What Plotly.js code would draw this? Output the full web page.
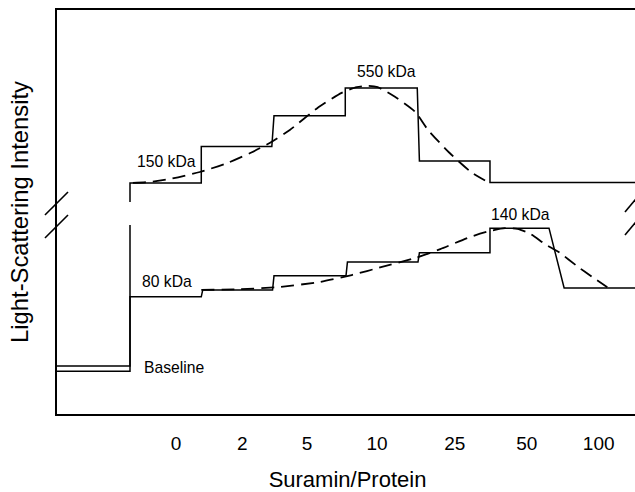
<!DOCTYPE html>
<html>
<head>
<meta charset="utf-8">
<script src="https://cdn.plot.ly/plotly-3.0.1.min.js"></script>
<style>
html,body{margin:0;padding:0;overflow:hidden;background:#fff;}
#chart{width:640px;height:492px;}
</style>
</head>
<body>
<div id="chart"></div>
<script>
// ---- data (x in dosing-step units, y in arbitrary intensity units) ----
const tickPositions = [0.64, 1.56, 2.46, 3.43, 4.51, 5.51, 6.51];
const tickLabels = ["0", "2", "5", "10", "25", "50", "100"];

// Upper (150 kDa -> 550 kDa) step trace
const upperBaseline = 11.9;
const upperStepStart = [0, 0.99, 1.97, 2.99, 3.99, 5.0];
const upperStepEnd   = [0, 0.99, 2.0, 2.99, 4.02, 5.0];
const upperLevels    = [57.2, 66.2, 73.8, 80.7, 62.6, 57.3];

// Lower (80 kDa -> 140 kDa) step trace
const lowerBaseline = 10.6;
const lowerStepStart = [0, 0.99, 1.98, 3.0, 4.0, 5.0, 5.82];
const lowerStepEnd   = [0, 1.01, 2.0, 3.02, 4.02, 5.0, 6.03];
const lowerLevels    = [29.0, 30.7, 34.2, 37.6, 39.9, 46.0, 31.2];

// Dashed fitted curves
const upperFitX = [0.04, 0.25, 0.56, 0.97, 1.35, 1.67, 1.94, 2.22, 2.6, 2.94, 3.15, 3.31, 3.44, 3.68, 3.96, 4.14, 4.44, 4.75, 4.97];
const upperFitY = [57.2, 57.4, 58.2, 59.9, 62.1, 64.6, 67.1, 70.3, 75.7, 79.5, 80.9, 81.2, 80.9, 78.5, 74.8, 70.3, 64.6, 59.7, 57.4];
const lowerFitX = [0.99, 1.53, 2.06, 2.64, 3.08, 3.5, 3.96, 4.31, 4.72, 5.0, 5.21, 5.38, 5.56, 5.76, 5.97, 6.21, 6.42, 6.63];
const lowerFitY = [30.7, 30.9, 31.4, 32.7, 34.4, 36.4, 38.6, 40.8, 43.8, 45.3, 46.0, 45.8, 44.6, 42.1, 39.9, 36.6, 33.9, 31.4];

const labels = [
  {text: "150 kDa", x: 0.5, y: 62.6},
  {text: "550 kDa", x: 3.56, y: 84.9},
  {text: "140 kDa", x: 5.43, y: 49.3},
  {text: "80 kDa", x: 0.51, y: 32.7},
  {text: "Baseline", x: 0.61, y: 11.6}
];

// axis-break gap on the y axis
const breakLo = 46.8, breakHi = 52.5;

const xRange = [-1.014, 7.056];
const yRange = [0, 100];

// ---- build step paths ----
function stepPath(base, starts, ends, levels, gap) {
  const xs = [xRange[0]], ys = [base];
  let cur = base;
  for (let i = 0; i < starts.length; i++) {
    xs.push(starts[i]); ys.push(cur);
    const nxt = levels[i];
    if (gap && i === 0 && cur < breakLo && nxt > breakHi) {
      xs.push(ends[i], null, ends[i]); ys.push(breakLo, null, breakHi);
    }
    xs.push(ends[i]); ys.push(nxt);
    cur = nxt;
  }
  xs.push(xRange[1]); ys.push(cur);
  return {xs, ys};
}

const up = stepPath(upperBaseline, upperStepStart, upperStepEnd, upperLevels, true);
const lo = stepPath(lowerBaseline, lowerStepStart, lowerStepEnd, lowerLevels, false);

const font = "Liberation Sans, Arial, Helvetica, sans-serif";
const lineStyle = {color: "#000", width: 1.5};
const dashStyle = {color: "#000", width: 1.8, dash: "13px,7px", shape: "spline", smoothing: 0.6};

const traces = [
  {x: up.xs, y: up.ys, mode: "lines", line: lineStyle, connectgaps: false, hoverinfo: "skip"},
  {x: lo.xs, y: lo.ys, mode: "lines", line: lineStyle, hoverinfo: "skip"},
  {x: upperFitX, y: upperFitY, mode: "lines", line: dashStyle, hoverinfo: "skip"},
  {x: lowerFitX, y: lowerFitY, mode: "lines", line: dashStyle, hoverinfo: "skip"}
];

const brk = {color: "#000", width: 1.6};
const shapes = [
  // left axis break marks
  {type: "line", xref: "paper", yref: "paper", x0: -0.0207, y0: 0.4926, x1: 0.0189, y1: 0.5495, line: brk},
  {type: "line", xref: "paper", yref: "paper", x0: -0.0207, y0: 0.4356, x1: 0.0189, y1: 0.4926, line: brk},
  // right axis break marks
  {type: "line", xref: "paper", yref: "paper", x0: 0.9776, y0: 0.5, x1: 1.012, y1: 0.5594, line: brk},
  {type: "line", xref: "paper", yref: "paper", x0: 0.9776, y0: 0.4431, x1: 1.012, y1: 0.5025, line: brk}
];

const annotations = labels.map(l => ({
  text: l.text, x: l.x, y: l.y, xref: "x", yref: "y",
  showarrow: false, xanchor: "center", yanchor: "middle",
  font: {family: font, size: 15.7, color: "#000"}
}));

const layout = {
  width: 640, height: 492,
  margin: {l: 57, r: 2, t: 10, b: 78},
  paper_bgcolor: "#fff", plot_bgcolor: "#fff",
  showlegend: false,
  font: {family: font, color: "#000"},
  xaxis: {
    range: xRange, showgrid: false, zeroline: false,
    showline: true, mirror: true, linecolor: "#000", linewidth: 1.6,
    ticks: "", tickmode: "array", tickvals: tickPositions, ticktext: tickLabels,
    tickfont: {family: font, size: 19, color: "#000"},
    ticklabelstandoff: 12,
    title: {text: "Suramin/Protein", font: {family: font, size: 22, color: "#000"}, standoff: 21}
  },
  yaxis: {
    range: yRange, showgrid: false, zeroline: false,
    showline: true, mirror: true, linecolor: "#000", linewidth: 1.6,
    ticks: "", showticklabels: false,
    title: {text: "Light-Scattering Intensity", font: {family: font, size: 23.8, color: "#000"}, standoff: 20}
  },
  shapes: shapes,
  annotations: annotations
};

Plotly.newPlot("chart", traces, layout, {staticPlot: true, displayModeBar: false});
</script>
</body>
</html>
